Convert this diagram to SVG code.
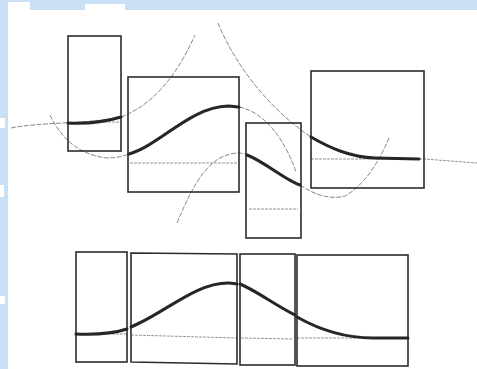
<svg xmlns="http://www.w3.org/2000/svg" width="477" height="369" viewBox="0 0 477 369">
<style>
.box{fill:none;stroke:#2b2b2b;stroke-width:1.6}
.thick{fill:none;stroke:#262626;stroke-width:3;stroke-linecap:round}
.thin{fill:none;stroke:#7a7a7a;stroke-width:0.9;stroke-dasharray:5 1.5}
.base{fill:none;stroke:#8a8a8a;stroke-width:0.9;stroke-dasharray:3 1}
</style>
<rect width="477" height="369" fill="#ffffff"/>
<g id="scan-edge">
<rect x="0" y="0" width="477" height="10" fill="#c9e0f4"/>
<rect x="0" y="0" width="8" height="369" fill="#c9e0f4"/>
<rect x="8" y="2" width="22" height="8" fill="#ffffff"/>
<rect x="85" y="4" width="40" height="6" fill="#ffffff"/>
<rect x="0" y="118" width="5" height="10" fill="#ffffff"/>
<rect x="0" y="185" width="4" height="12" fill="#ffffff"/>
<rect x="0" y="296" width="5" height="8" fill="#ffffff"/>
</g>
<g id="connectors">
<path class="thin" d="M11,128 C40,122 90,124 121,117 C150,106 175,80 195,35"/>
<path class="thin" d="M50,115 C62,140 80,155 107,158 C117,158 124,156 129,154"/>
<path class="thin" d="M177,223 C195,180 210,155 237,153 C242,153 245,154 247,154"/>
<path class="thin" d="M239,107 C265,112 285,140 296,172"/>
<path class="thin" d="M218,23 C235,65 270,110 311,137"/>
<path class="thin" d="M300,185 C315,195 330,200 345,196 C365,185 380,160 389,138"/>
<path class="base" d="M100,122 L121,122"/>
<path class="base" d="M130,163 L237,163"/>
<path class="base" d="M249,209 L298,209"/>
<path class="base" d="M311,159 L424,159 L477,163"/>
<path class="base" d="M112,334 L127,334 M131,335 L237,338 M241,338 L293,339 M297,338 L408,338"/>
</g>
<g id="box-a"><rect class="box" x="68" y="36" width="53" height="115"/><path class="thick" d="M68,123 C90,124 108,121 121,117"/></g>
<g id="box-b"><rect class="box" x="128" y="77" width="111" height="115"/><path class="thick" d="M129,154 C160,145 190,107 228,106 C233,106 237,107 239,107"/></g>
<g id="box-c"><rect class="box" x="246" y="123" width="55" height="115"/><path class="thick" d="M247,155 C265,162 285,180 300,185"/></g>
<g id="box-d"><rect class="box" x="311" y="71" width="113" height="117"/><path class="thick" d="M311,137 C330,148 350,157 375,158 L419,159"/></g>
<g id="box-e"><rect class="box" x="76" y="252" width="51" height="110"/><path class="thick" d="M76,334 C100,335 115,333 127,329"/></g>
<g id="box-f"><polygon class="box" points="131,253 237,254 237,364 131,362"/><path class="thick" d="M131,327 C165,313 195,283 228,283 C233,283 236,284 237,284"/></g>
<g id="box-g"><rect class="box" x="240" y="254" width="55" height="111"/><path class="thick" d="M240,284 C255,290 275,305 295,315"/></g>
<g id="box-h"><rect class="box" x="297" y="255" width="111" height="111"/><path class="thick" d="M297,317 C320,330 345,338 373,338 L408,338"/></g>
</svg>
